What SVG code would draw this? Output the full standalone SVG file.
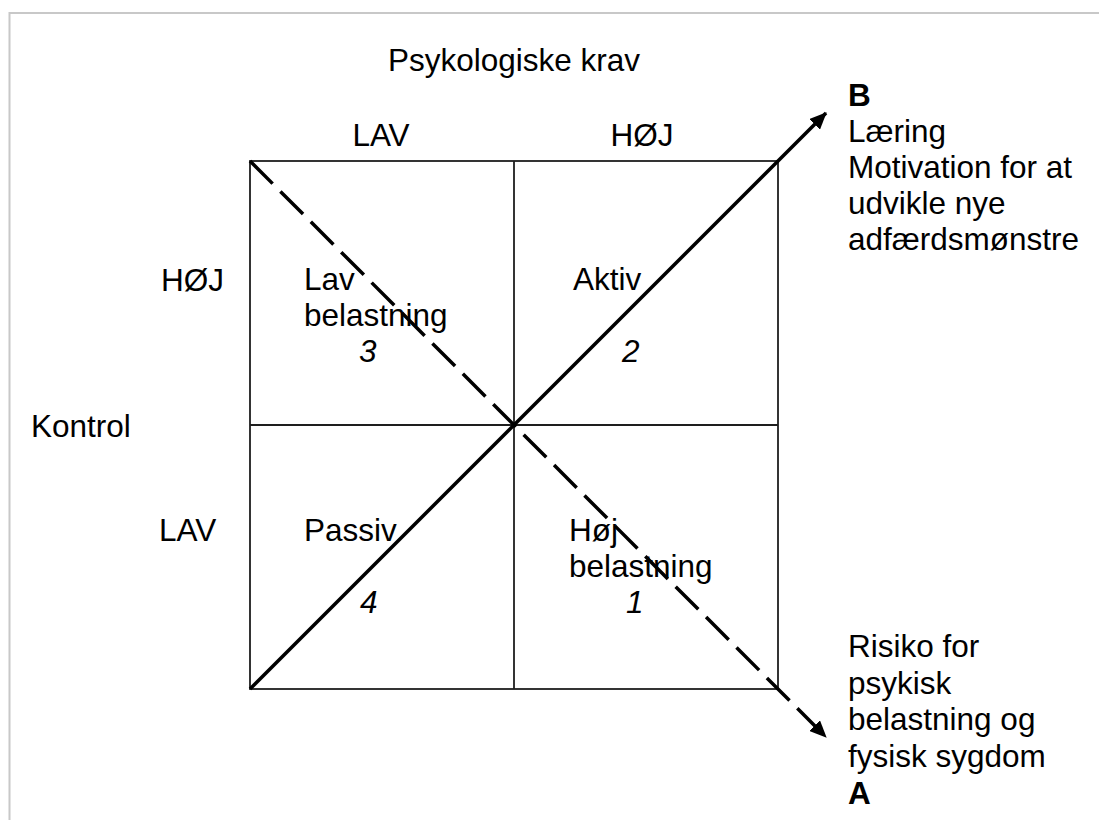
<svg xmlns="http://www.w3.org/2000/svg" width="1099" height="820" viewBox="0 0 1099 820">
  <style>
    .t { font-family: "Liberation Sans", Arial, sans-serif; font-size: 31.5px; fill: #000; }
    .b { font-weight: bold; }
    .i { font-style: italic; }
    .mid { text-anchor: middle; }
    .grid { stroke: #1e1e1e; stroke-width: 1.8; fill: none; }
    .diag { stroke: #000; stroke-width: 3.5; fill: none; }
    .dash { stroke-dasharray: 32 11; }
  </style>
  <defs>
    <marker id="arrow" viewBox="0 0 17 15" refX="16" refY="7.5" markerWidth="17" markerHeight="15" markerUnits="userSpaceOnUse" orient="auto">
      <path d="M0,0 L17,7.5 L0,15 Z" fill="#000"/>
    </marker>
  </defs>

  <rect width="1099" height="820" fill="#fff"/>
  <!-- page frame -->
  <path d="M9.5,820 V13 H1099" stroke="#c8c8c8" stroke-width="2" fill="none"/>

  <!-- axis headings -->
  <g id="axis-top">
    <text class="t mid" x="514" y="71">Psykologiske krav</text>
    <text class="t mid" x="381" y="146">LAV</text>
    <text class="t mid" x="642" y="146">HØJ</text>
  </g>
  <g id="axis-left">
    <text class="t" x="161" y="291">HØJ</text>
    <text class="t" x="31" y="437">Kontrol</text>
    <text class="t" x="159" y="541">LAV</text>
  </g>

  <!-- 2x2 matrix -->
  <g id="matrix">
    <rect class="grid" x="250" y="161" width="528" height="528"/>
    <line class="grid" x1="514" y1="161" x2="514" y2="689"/>
    <line class="grid" x1="250" y1="425" x2="778" y2="425"/>
  </g>

  <g id="q3">
    <text class="t" x="304" y="290">Lav</text>
    <text class="t" x="304" y="326">belastning</text>
    <text class="t i" x="359" y="362">3</text>
  </g>
  <g id="q2">
    <text class="t" x="573" y="290">Aktiv</text>
    <text class="t i" x="622" y="362">2</text>
  </g>
  <g id="q4">
    <text class="t" x="304" y="541">Passiv</text>
    <text class="t i" x="360" y="613">4</text>
  </g>
  <g id="q1">
    <text class="t" x="569" y="541">Høj</text>
    <text class="t" x="569" y="577">belastning</text>
    <text class="t i" x="626" y="613">1</text>
  </g>

  <!-- diagonals -->
  <g id="connectors">
    <line class="diag" x1="250" y1="689" x2="826" y2="113" marker-end="url(#arrow)"/>
    <line class="diag dash" x1="250" y1="161" x2="826" y2="737" marker-end="url(#arrow)"/>
  </g>

  <g id="outcome-b">
    <text class="t b" x="848" y="106">B</text>
    <text class="t" x="848" y="142">Læring</text>
    <text class="t" x="848" y="178">Motivation for at</text>
    <text class="t" x="848" y="214">udvikle nye</text>
    <text class="t" x="848" y="250">adfærdsmønstre</text>
  </g>
  <g id="outcome-a">
    <text class="t" x="848" y="657">Risiko for</text>
    <text class="t" x="848" y="694">psykisk</text>
    <text class="t" x="848" y="730">belastning og</text>
    <text class="t" x="848" y="767">fysisk sygdom</text>
    <text class="t b" x="848" y="804">A</text>
  </g>
</svg>
